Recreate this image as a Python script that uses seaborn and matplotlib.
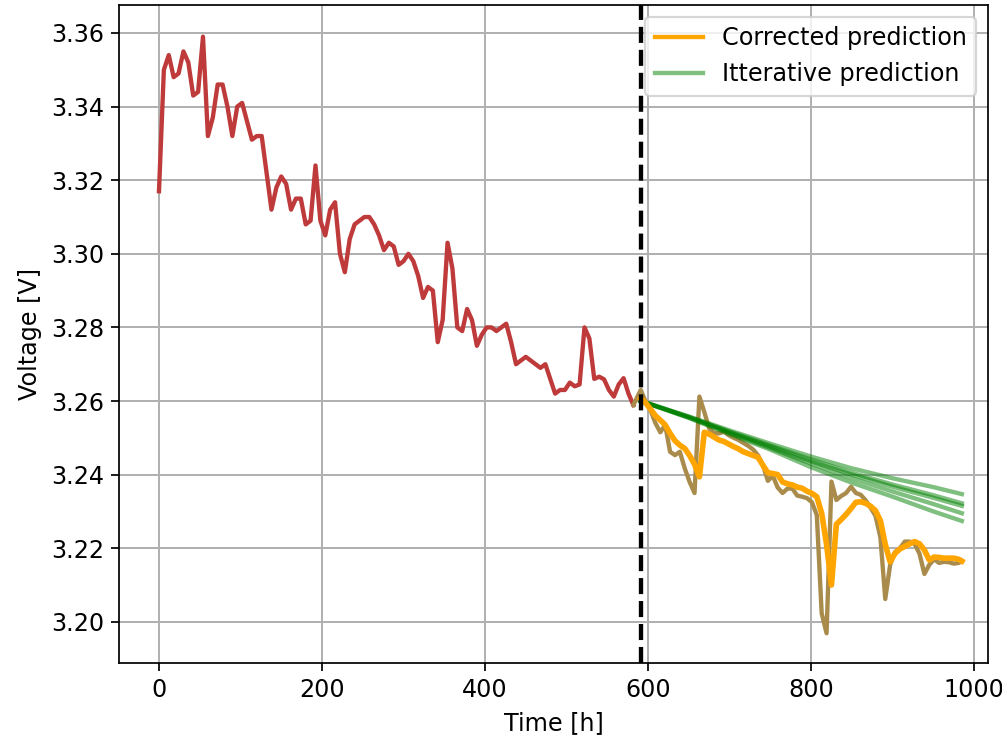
import numpy as np
import pandas as pd
import matplotlib
matplotlib.use("Agg")
import matplotlib.pyplot as plt
import seaborn as sns

# ---------------- data ----------------
hist_time = list(range(0, 583, 6))
hist_voltage = [
    3.317, 3.350, 3.354, 3.348, 3.349, 3.355, 3.352, 3.343, 3.344, 3.359,
    3.332, 3.337, 3.346, 3.346, 3.340, 3.332, 3.340, 3.341, 3.336, 3.331,
    3.332, 3.332, 3.322, 3.312, 3.318, 3.321, 3.319, 3.312, 3.315, 3.315,
    3.308, 3.309, 3.324, 3.309, 3.305, 3.312, 3.314, 3.300, 3.295, 3.304,
    3.308, 3.309, 3.310, 3.310, 3.308, 3.305, 3.301, 3.303, 3.302, 3.297,
    3.298, 3.300, 3.298, 3.294, 3.288, 3.291, 3.290, 3.276, 3.282, 3.303,
    3.296, 3.280, 3.279, 3.285, 3.282, 3.275, 3.278, 3.280, 3.280, 3.279,
    3.280, 3.281, 3.276, 3.270, 3.271, 3.272, 3.271, 3.270, 3.269, 3.270,
    3.266, 3.262, 3.263, 3.263, 3.265, 3.264, 3.2645, 3.280, 3.277, 3.266,
    3.2666, 3.2659, 3.2630, 3.2612, 3.2645, 3.2662, 3.2620, 3.2589,
]

split_time = 591

pred_time = list(range(591, 982, 6)) + [985]
actual_time = [582] + pred_time
actual_voltage = [
    3.2589,
    3.2630, 3.2598, 3.2575, 3.2540, 3.2515, 3.2535, 3.2462, 3.2453, 3.2462, 3.2417,
    3.2380, 3.2350, 3.2612, 3.2570, 3.2525, 3.2513, 3.2512, 3.2517, 3.2507, 3.2500,
    3.2494, 3.2486, 3.2478, 3.2468, 3.2452, 3.2425, 3.2383, 3.2397, 3.2365, 3.2350,
    3.2362, 3.2362, 3.2343, 3.2340, 3.2336, 3.2325, 3.2290, 3.2023, 3.1969, 3.2381,
    3.2331, 3.2342, 3.2350, 3.2367, 3.2350, 3.2345, 3.2330, 3.2310, 3.2288, 3.2230,
    3.2062, 3.2155, 3.2190, 3.2200, 3.2218, 3.2218, 3.2212, 3.2185, 3.2130, 3.2155,
    3.2170, 3.2160, 3.2163, 3.2162, 3.2158, 3.2160, 3.2165,
]
corrected_voltage = [
    3.2607, 3.2595, 3.2578, 3.2560, 3.2548, 3.2535, 3.2512, 3.2492, 3.2480, 3.2471,
    3.2452, 3.2428, 3.2394, 3.2515, 3.2510, 3.2502, 3.2494, 3.2490, 3.2483, 3.2476,
    3.2470, 3.2462, 3.2457, 3.2452, 3.2447, 3.2425, 3.2405, 3.2403, 3.2400, 3.2380,
    3.2375, 3.2372, 3.2366, 3.2363, 3.2355, 3.2349, 3.2340, 3.2295, 3.2210, 3.2100,
    3.2265, 3.2278, 3.2292, 3.2308, 3.2325, 3.2326, 3.2322, 3.2314, 3.2302, 3.2275,
    3.2210, 3.2163, 3.2186, 3.2198, 3.2205, 3.2212, 3.2218, 3.2212, 3.2195, 3.2168,
    3.2176, 3.2175, 3.2173, 3.2173, 3.2173, 3.2170, 3.2165,
]

iter_time = [591, 650, 700, 750, 800, 850, 900, 950, 985]
iter_run1 = [3.2600, 3.2558, 3.2520, 3.2484, 3.2449, 3.2417, 3.2390, 3.2366, 3.2347]
iter_run2 = [3.2600, 3.2557, 3.2517, 3.2479, 3.2441, 3.2405, 3.2373, 3.2344, 3.2322]
iter_run3 = [3.2600, 3.2556, 3.2515, 3.2476, 3.2436, 3.2400, 3.2367, 3.2337, 3.2315]
iter_run4 = [3.2600, 3.2555, 3.2513, 3.2472, 3.2430, 3.2390, 3.2354, 3.2320, 3.2295]
iter_run5 = [3.2600, 3.2554, 3.2510, 3.2468, 3.2420, 3.2378, 3.2340, 3.2300, 3.2274]
iter_runs = [iter_run1, iter_run2, iter_run3, iter_run4, iter_run5]

yticks = [3.20, 3.22, 3.24, 3.26, 3.28, 3.30, 3.32, 3.34, 3.36]
xticks = [0, 200, 400, 600, 800, 1000]

# ---------------- plot ----------------
FS = 11
DPI = 156
fig = plt.figure(figsize=(1002 / DPI, 739 / DPI), dpi=DPI)
ax = fig.add_axes([0.1188, 0.1028, 0.8672, 0.8904])

hist_df = pd.DataFrame({"t": hist_time, "v": hist_voltage})
act_df = pd.DataFrame({"t": actual_time, "v": actual_voltage})
corr_df = pd.DataFrame({"t": pred_time, "v": corrected_voltage})

sns.lineplot(data=hist_df, x="t", y="v", ax=ax, color="#bf3b3b", lw=2.0,
             estimator=None, sort=False)
sns.lineplot(data=act_df, x="t", y="v", ax=ax, color="#a98b4c", lw=2.0,
             estimator=None, sort=False)

for i, run in enumerate(iter_runs):
    df = pd.DataFrame({"t": iter_time, "v": run})
    sns.lineplot(data=df, x="t", y="v", ax=ax, color="green", alpha=0.5, lw=2.0,
                 estimator=None, sort=False,
                 label="Itterative prediction" if i == 0 else None)

sns.lineplot(data=corr_df, x="t", y="v", ax=ax, color="orange", lw=2.6,
             estimator=None, sort=False, label="Corrected prediction")

ax.axvline(split_time, color="black", ls="--", lw=2.0)

ax.grid(True, color="#b0b0b0", lw=0.9)
ax.set_axisbelow(True)
ax.set_xlabel("Time [h]", fontsize=FS)
ax.set_ylabel("Voltage [V]", fontsize=FS)
ax.tick_params(labelsize=FS)
ax.set_xticks(xticks)
ax.set_yticks(yticks)
ax.set_yticklabels([f"{v:.2f}" for v in yticks])
ax.set_xlim(-49, 1017)
ax.set_ylim(3.1888, 3.3676)

handles, labels = ax.get_legend_handles_labels()
order = [labels.index("Corrected prediction"), labels.index("Itterative prediction")]
leg = ax.legend([handles[i] for i in order], [labels[i] for i in order],
                loc="upper right", fontsize=FS)
for h in leg.get_lines():
    h.set_linewidth(2.0)

fig.savefig("out.png", dpi=DPI)
